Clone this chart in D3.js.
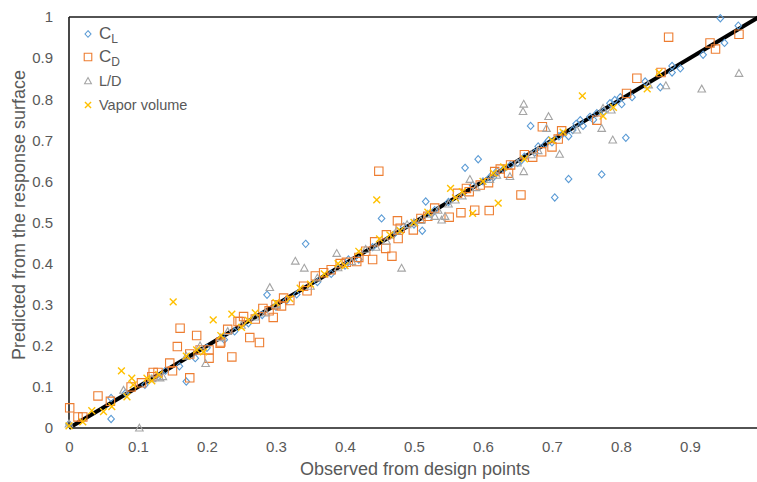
<!DOCTYPE html>
<html>
<head>
<meta charset="utf-8">
<script src="https://cdn.jsdelivr.net/npm/d3@7"></script>
<style>
  html, body { margin: 0; padding: 0; background: #fff; }
  svg { display: block; font-family: "Liberation Sans", Arial, sans-serif; }
</style>
</head>
<body>
<svg id="chart" width="757" height="482"></svg>
<script>
// Observed vs. predicted values, [observed, predicted]
const clPoints = [
  [0.0, 0.01], [0.061, 0.022], [0.061, 0.073], [0.082, 0.085], [0.11, 0.105], [0.13, 0.125],
  [0.17, 0.113], [0.183, 0.17], [0.16, 0.15], [0.2, 0.195], [0.225, 0.215], [0.24, 0.235],
  [0.26, 0.255], [0.287, 0.324], [0.3, 0.295], [0.343, 0.448], [0.33, 0.325], [0.36, 0.355],
  [0.38, 0.375], [0.4, 0.395], [0.42, 0.41], [0.453, 0.51], [0.44, 0.44], [0.47, 0.47],
  [0.5, 0.495], [0.512, 0.48], [0.517, 0.551], [0.53, 0.53], [0.55, 0.55], [0.574, 0.633],
  [0.593, 0.654], [0.6, 0.6], [0.61, 0.61], [0.62, 0.625], [0.63, 0.63], [0.64, 0.64],
  [0.65, 0.645], [0.66, 0.66], [0.669, 0.735], [0.675, 0.67], [0.68, 0.685], [0.69, 0.69],
  [0.7, 0.695], [0.704, 0.561], [0.71, 0.71], [0.724, 0.606], [0.724, 0.71], [0.73, 0.725],
  [0.741, 0.749], [0.745, 0.735], [0.755, 0.757], [0.76, 0.75], [0.765, 0.766], [0.772, 0.617],
  [0.775, 0.77], [0.784, 0.79], [0.791, 0.798], [0.799, 0.805], [0.801, 0.788], [0.807, 0.706],
  [0.816, 0.805], [0.835, 0.843], [0.857, 0.829], [0.874, 0.881], [0.874, 0.865], [0.886, 0.875],
  [0.919, 0.908], [0.944, 0.997], [0.95, 0.937], [0.97, 0.979],
  [0.14, 0.14], [0.28, 0.275], [0.315, 0.31], [0.405, 0.41], [0.485, 0.49], [0.525, 0.52],
  [0.585, 0.59], [0.615, 0.61], [0.655, 0.65], [0.695, 0.7], [0.715, 0.715], [0.735, 0.74]
];
const cdPoints = [
  [0.001, 0.049], [0.013, 0.027], [0.02, 0.027], [0.042, 0.078], [0.09, 0.1], [0.105, 0.11],
  [0.12, 0.125], [0.122, 0.135], [0.129, 0.135], [0.146, 0.158], [0.15, 0.139], [0.157, 0.198],
  [0.161, 0.243], [0.175, 0.122], [0.185, 0.225], [0.19, 0.19], [0.203, 0.19], [0.203, 0.17],
  [0.219, 0.206], [0.22, 0.209], [0.236, 0.173], [0.23, 0.24], [0.245, 0.259], [0.248, 0.259],
  [0.253, 0.271], [0.262, 0.22], [0.276, 0.208], [0.27, 0.265], [0.281, 0.291], [0.296, 0.269],
  [0.29, 0.285], [0.308, 0.297], [0.311, 0.316], [0.32, 0.31], [0.345, 0.334], [0.34, 0.345],
  [0.357, 0.37], [0.369, 0.378], [0.393, 0.4], [0.402, 0.403], [0.417, 0.405], [0.43, 0.43],
  [0.44, 0.41], [0.443, 0.453], [0.449, 0.625], [0.459, 0.437], [0.468, 0.418], [0.477, 0.461],
  [0.476, 0.504], [0.48, 0.486], [0.499, 0.482], [0.51, 0.51], [0.52, 0.515], [0.551, 0.513],
  [0.563, 0.571], [0.568, 0.524], [0.576, 0.583], [0.588, 0.53], [0.596, 0.591], [0.608, 0.597],
  [0.609, 0.529], [0.617, 0.624], [0.637, 0.62], [0.64, 0.64], [0.655, 0.567], [0.672, 0.659],
  [0.685, 0.672], [0.686, 0.733], [0.7, 0.684], [0.709, 0.703], [0.714, 0.723], [0.765, 0.749],
  [0.808, 0.814], [0.823, 0.851], [0.858, 0.865], [0.869, 0.951], [0.929, 0.937], [0.937, 0.922],
  [0.971, 0.958],
  [0.06, 0.065], [0.175, 0.18], [0.3, 0.3], [0.38, 0.385], [0.42, 0.415], [0.46, 0.47],
  [0.53, 0.535], [0.58, 0.575], [0.625, 0.63], [0.66, 0.665]
];
const ldPoints = [
  [0.0, 0.01], [0.102, 0.0], [0.079, 0.092], [0.12, 0.12], [0.132, 0.122], [0.136, 0.125],
  [0.17, 0.175], [0.198, 0.157], [0.19, 0.2], [0.22, 0.22], [0.25, 0.25], [0.27, 0.27],
  [0.291, 0.342], [0.3, 0.3], [0.328, 0.406], [0.341, 0.389], [0.35, 0.345], [0.388, 0.425],
  [0.39, 0.39], [0.41, 0.405], [0.43, 0.435], [0.46, 0.455], [0.482, 0.389], [0.5, 0.5],
  [0.51, 0.505], [0.52, 0.52], [0.535, 0.53], [0.54, 0.506], [0.545, 0.515], [0.55, 0.545],
  [0.56, 0.555], [0.581, 0.605], [0.59, 0.585], [0.61, 0.605], [0.639, 0.612], [0.65, 0.645],
  [0.658, 0.77], [0.659, 0.788], [0.659, 0.624], [0.68, 0.675], [0.692, 0.729], [0.695, 0.758],
  [0.711, 0.666], [0.736, 0.725], [0.772, 0.729], [0.774, 0.778], [0.786, 0.774], [0.788, 0.701],
  [0.84, 0.835], [0.865, 0.833], [0.917, 0.825], [0.971, 0.863],
  [0.23, 0.235], [0.285, 0.28], [0.36, 0.365], [0.445, 0.44], [0.475, 0.48], [0.49, 0.495],
  [0.53, 0.515], [0.57, 0.565], [0.62, 0.615], [0.67, 0.665]
];
const vaporPoints = [
  [0.0, 0.005], [0.02, 0.015], [0.033, 0.042], [0.05, 0.04], [0.062, 0.052], [0.076, 0.139],
  [0.084, 0.076], [0.091, 0.121], [0.093, 0.105], [0.113, 0.121], [0.12, 0.115], [0.151, 0.307],
  [0.13, 0.13], [0.17, 0.175], [0.195, 0.185], [0.209, 0.263], [0.236, 0.277], [0.22, 0.225],
  [0.25, 0.245], [0.27, 0.28], [0.3, 0.305], [0.32, 0.315], [0.35, 0.35], [0.37, 0.375],
  [0.4, 0.395], [0.42, 0.43], [0.446, 0.555], [0.45, 0.46], [0.48, 0.48], [0.5, 0.5],
  [0.553, 0.583], [0.57, 0.575], [0.585, 0.522], [0.6, 0.6], [0.622, 0.547], [0.63, 0.635],
  [0.66, 0.655], [0.7, 0.7], [0.716, 0.72], [0.744, 0.808], [0.774, 0.759], [0.789, 0.78],
  [0.838, 0.825], [0.855, 0.865],
  [0.185, 0.19], [0.26, 0.262], [0.335, 0.34], [0.39, 0.4], [0.465, 0.47], [0.52, 0.525],
  [0.56, 0.56], [0.615, 0.62]
];
const referenceLine = [[0, 0], [1, 1]];
const xTicks = [0, 0.1, 0.2, 0.3, 0.4, 0.5, 0.6, 0.7, 0.8, 0.9];
const yTicks = [0, 0.1, 0.2, 0.3, 0.4, 0.5, 0.6, 0.7, 0.8, 0.9, 1];
const seriesNames = ["C_L", "C_D", "L/D", "Vapor volume"];

// Marker shapes: the size argument is used as a half-width in pixels
const diamondShape = { draw(ctx, r) { ctx.moveTo(0, -r * 1.1); ctx.lineTo(r, 0); ctx.lineTo(0, r * 1.1); ctx.lineTo(-r, 0); ctx.closePath(); } };
const squareShape = { draw(ctx, r) { ctx.rect(-r, -r, 2 * r, 2 * r); } };
const triangleShape = { draw(ctx, r) { ctx.moveTo(0, -r); ctx.lineTo(r, r * 0.8); ctx.lineTo(-r, r * 0.8); ctx.closePath(); } };
const crossShape = { draw(ctx, r) { ctx.moveTo(-r, -r); ctx.lineTo(r, r); ctx.moveTo(r, -r); ctx.lineTo(-r, r); } };

const series = [
  { name: seriesNames[0], data: clPoints, color: "#5B9BD5", shape: diamondShape, r: 3.3, sw: 1.1 },
  { name: seriesNames[1], data: cdPoints, color: "#ED7D31", shape: squareShape, r: 4.2, sw: 1.1 },
  { name: seriesNames[2], data: ldPoints, color: "#A5A5A5", shape: triangleShape, r: 3.8, sw: 1.1 },
  { name: seriesNames[3], data: vaporPoints, color: "#FFC000", shape: crossShape, r: 3.4, sw: 1.4 }
];

const svg = d3.select("#chart");
const W = 757;
const x = d3.scaleLinear().domain([0, 1]).range([69, 759]);
const y = d3.scaleLinear().domain([0, 1]).range([428, 17]);
const textColor = "#595959";

// Tick labels
const fmt = d => d3.format("~g")(d);
const xAxis = svg.append("g").attr("transform", `translate(0,${y(0)})`)
  .call(d3.axisBottom(x).tickValues(xTicks).tickFormat(fmt).tickSize(0).tickPadding(13));
xAxis.select(".domain").remove();
xAxis.selectAll("text").attr("fill", textColor).style("font-size", "15px").style("font-family", "Liberation Sans, Arial, sans-serif");

const yAxis = svg.append("g").attr("transform", `translate(${x(0)},0)`)
  .call(d3.axisLeft(y).tickValues(yTicks).tickFormat(fmt).tickSize(0).tickPadding(16));
yAxis.select(".domain").remove();
yAxis.selectAll("text").attr("fill", textColor).style("font-size", "15px").style("font-family", "Liberation Sans, Arial, sans-serif");

// Axis titles
svg.append("text").attr("x", 415).attr("y", 475).attr("text-anchor", "middle")
  .attr("fill", textColor).style("font-size", "18px").text("Observed from design points");
svg.append("text").attr("transform", `translate(25,215) rotate(-90)`)
  .attr("text-anchor", "middle").attr("fill", textColor).style("font-size", "18px")
  .text("Predicted from the response surface");

// Plot frame
const frame = svg.append("g").attr("stroke", "#1a1a1a").attr("stroke-width", 1.6).attr("fill", "none");
frame.append("line").attr("x1", x(0)).attr("x2", W).attr("y1", y(1)).attr("y2", y(1));
frame.append("line").attr("x1", x(0)).attr("x2", W).attr("y1", y(0)).attr("y2", y(0));
frame.append("line").attr("x1", x(0)).attr("x2", x(0)).attr("y1", y(0)).attr("y2", y(1));

// y = x reference line
svg.append("path").datum(referenceLine)
  .attr("d", d3.line().x(d => x(d[0])).y(d => y(d[1])))
  .attr("stroke", "#000").attr("stroke-width", 4).attr("fill", "none");

// Markers
series.forEach(s => {
  svg.append("g").selectAll("path").data(s.data).join("path")
    .attr("transform", d => `translate(${x(d[0])},${y(d[1])})`)
    .attr("d", d3.symbol().type(s.shape).size(s.r))
    .attr("fill", "none").attr("stroke", s.color).attr("stroke-width", s.sw);
});

// Legend
const legend = svg.append("g");
const legendY = [34, 57, 81, 105];
series.forEach((s, i) => {
  legend.append("path").attr("transform", `translate(88,${legendY[i]})`)
    .attr("d", d3.symbol().type(s.shape).size(s.r * 0.9))
    .attr("fill", "none").attr("stroke", s.color).attr("stroke-width", s.sw);
  const t = legend.append("text").attr("x", 99).attr("y", legendY[i] + 5).attr("fill", textColor);
  if (s.name.includes("_")) {
    const [base, sub] = s.name.split("_");
    t.append("tspan").style("font-size", "17px").text(base);
    t.append("tspan").style("font-size", "12px").attr("dy", 4).text(sub);
  } else {
    t.style("font-size", "14.5px").text(s.name);
  }
});
</script>
</body>
</html>
